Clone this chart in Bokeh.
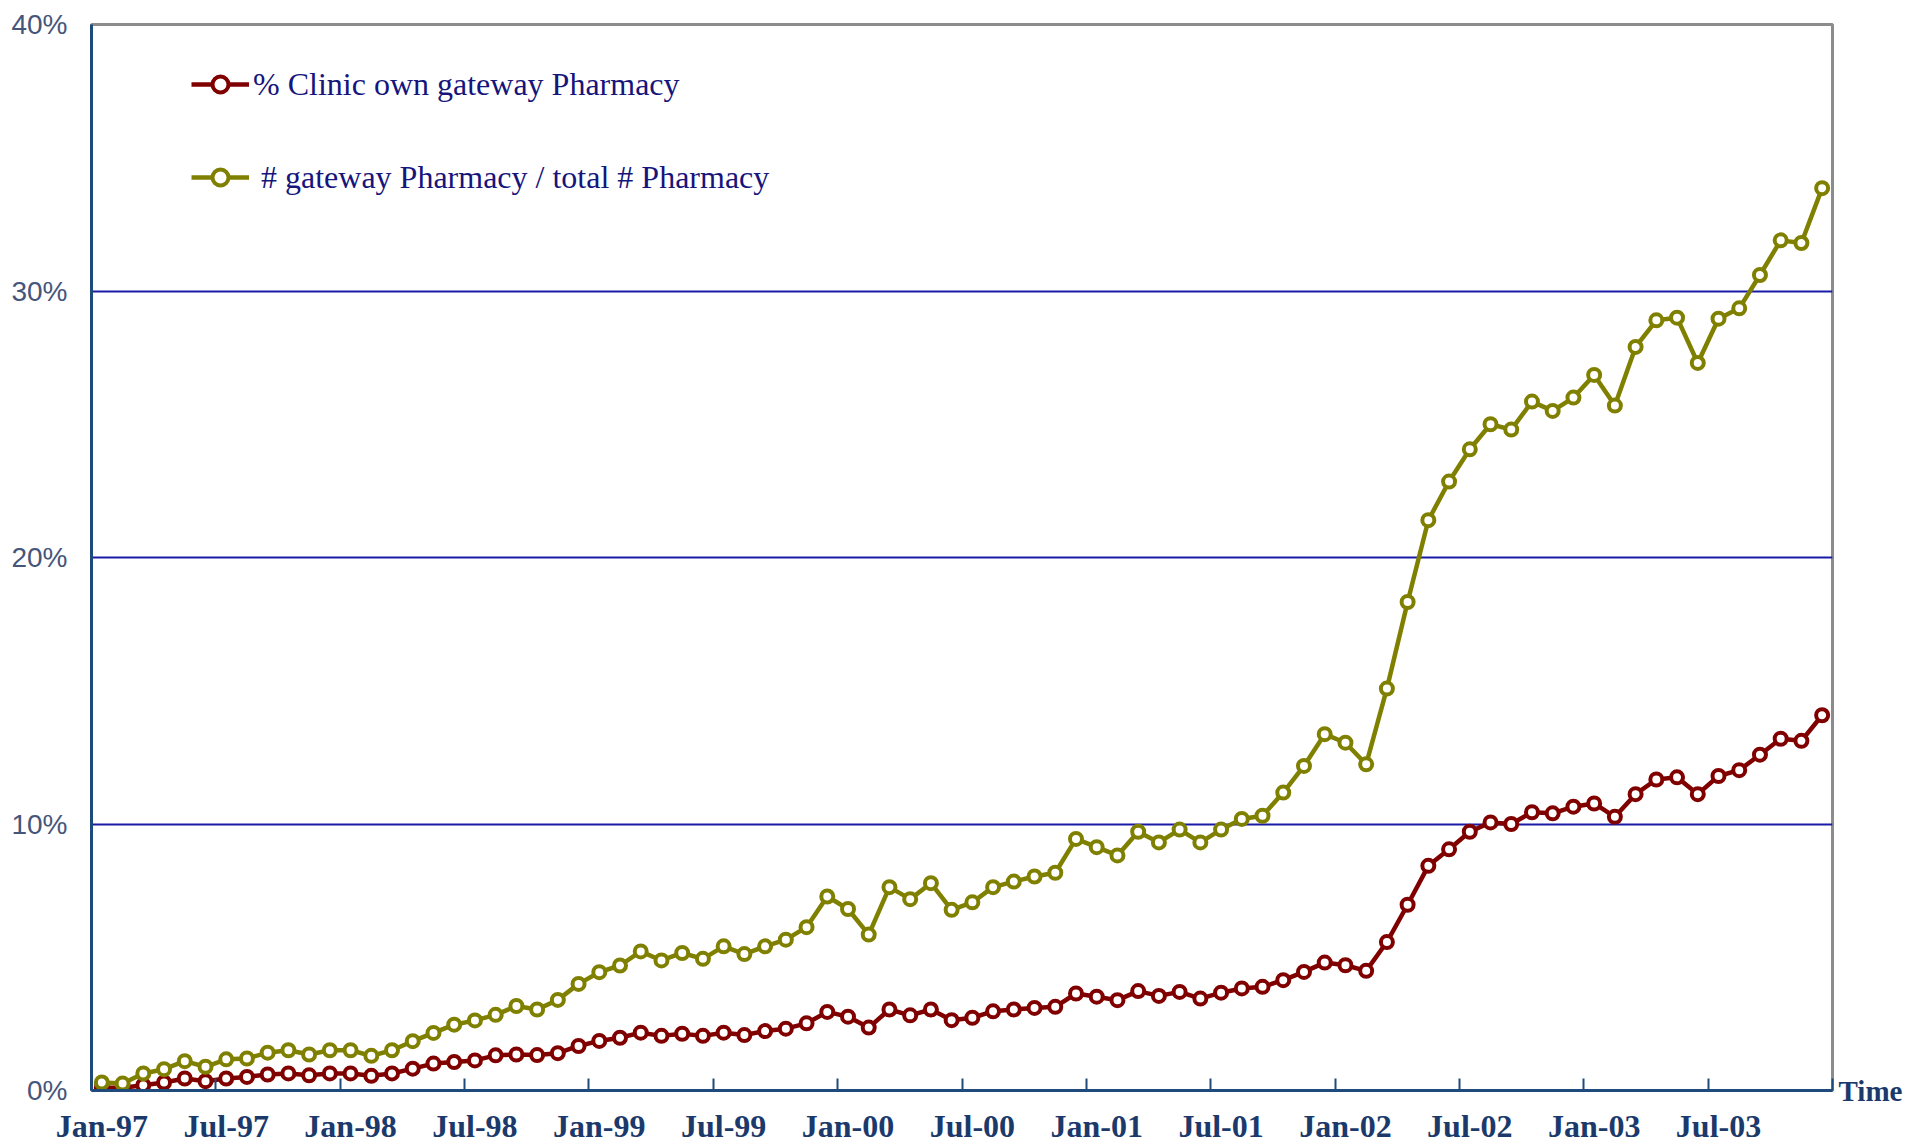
from bokeh.plotting import figure
from bokeh.models import FixedTicker, Legend, LegendItem, LinearAxis, Range1d, ColumnDataSource
from bokeh.embed import file_html
from bokeh.resources import INLINE

# ---- data ----
tick_labels = ["Jan-97", "Jul-97", "Jan-98", "Jul-98", "Jan-99", "Jul-99", "Jan-00",
               "Jul-00", "Jan-01", "Jul-01", "Jan-02", "Jul-02", "Jan-03", "Jul-03"]

clinic_own_gateway = [
    0.10, 0.10, 0.20, 0.30, 0.45, 0.35, 0.45, 0.51, 0.60, 0.64, 0.57, 0.64,
    0.64, 0.55, 0.64, 0.82, 1.01, 1.07, 1.13, 1.32, 1.35, 1.33, 1.40, 1.67,
    1.86, 1.98, 2.17, 2.05, 2.13, 2.05, 2.17, 2.08, 2.23, 2.32, 2.52, 2.95,
    2.77, 2.36, 3.04, 2.82, 3.04, 2.64, 2.73, 2.97, 3.04, 3.10, 3.14, 3.64,
    3.52, 3.39, 3.73, 3.55, 3.70, 3.45, 3.67, 3.83, 3.89, 4.14, 4.45, 4.80,
    4.70, 4.49, 5.57, 6.97, 8.43, 9.05, 9.71, 10.06, 10.00, 10.44, 10.40, 10.65,
    10.77, 10.27, 11.12, 11.67, 11.75, 11.12, 11.80, 12.02, 12.60, 13.20, 13.12, 14.08,
]

gateway_share = [
    0.30, 0.26, 0.64, 0.80, 1.10, 0.89, 1.17, 1.20, 1.42, 1.51, 1.35, 1.51,
    1.51, 1.30, 1.51, 1.85, 2.16, 2.47, 2.63, 2.84, 3.17, 3.04, 3.40, 4.00,
    4.44, 4.69, 5.22, 4.88, 5.16, 4.94, 5.41, 5.12, 5.41, 5.66, 6.13, 7.28,
    6.81, 5.85, 7.63, 7.18, 7.78, 6.78, 7.06, 7.63, 7.84, 8.03, 8.17, 9.44,
    9.13, 8.82, 9.71, 9.31, 9.79, 9.31, 9.79, 10.19, 10.31, 11.18, 12.18, 13.37,
    13.05, 12.24, 15.08, 18.33, 21.40, 22.85, 24.06, 25.00, 24.80, 25.85, 25.50, 26.00,
    26.85, 25.70, 27.90, 28.90, 29.00, 27.30, 28.96, 29.35, 30.60, 31.90, 31.80, 33.86,
]

y_ticks = [0, 10, 20, 30, 40]
months_per_label = 6
x_title = "Time"

# ---- figure ----
n = len(gateway_share)
x = list(range(n))
src = ColumnDataSource(dict(x=x, red=clinic_own_gateway, olive=gateway_share))

p = figure(width=1905, height=1146, output_backend="svg", toolbar_location=None,
           x_range=Range1d(-0.5, n - 0.5), y_range=Range1d(0, 40),
           min_border_left=91, min_border_top=24, min_border_right=73, min_border_bottom=54)
p.background_fill_color = "white"
p.border_fill_color = "white"
p.outline_line_color = "#8c8c8c"
p.outline_line_width = 3

# grid
p.xgrid.visible = False
p.ygrid.ticker = FixedTicker(ticks=[t for t in y_ticks if 0 < t < 40])
p.ygrid.grid_line_color = "#1a1aa8"
p.ygrid.grid_line_width = 2

# x axis
label_pos = [i * months_per_label for i in range(len(tick_labels))]
boundaries = [i * months_per_label - 0.5 for i in range(1, len(tick_labels) + 1)]
xa = p.xaxis[0]
xa.ticker = FixedTicker(ticks=label_pos, minor_ticks=boundaries)
xa.major_label_overrides = {pos: lab for pos, lab in zip(label_pos, tick_labels)}
xa.major_tick_line_color = None
xa.major_tick_out = 0
xa.major_tick_in = 0
xa.minor_tick_line_color = "#1f4a7c"
xa.minor_tick_line_width = 2
xa.minor_tick_in = 12
xa.minor_tick_out = 0
xa.axis_line_color = "#1f4a7c"
xa.axis_line_width = 3
xa.major_label_text_font = "Liberation Serif"
xa.major_label_text_font_style = "bold"
xa.major_label_text_font_size = "32px"
xa.major_label_text_color = "#1b3a6b"
xa.major_label_standoff = 17

# y axis
ya = p.yaxis[0]
ya.ticker = FixedTicker(ticks=y_ticks)
ya.major_label_overrides = {t: f"{t}%" for t in y_ticks}
ya.major_tick_line_color = None
ya.major_tick_out = 0
ya.major_tick_in = 0
ya.minor_tick_line_color = None
ya.axis_line_color = "#1f4a7c"
ya.axis_line_width = 3
ya.major_label_text_font = "Liberation Sans"
ya.major_label_text_font_size = "28px"
ya.major_label_text_color = "#46557a"
ya.major_label_standoff = 24

# "Time" caption at the right end of the x axis (right-side axis with one label at y=0)
ra = LinearAxis(ticker=FixedTicker(ticks=[0]), major_label_overrides={0: x_title})
ra.axis_line_color = None
ra.major_tick_line_color = None
ra.minor_tick_line_color = None
ra.major_tick_out = 0
ra.major_tick_in = 0
ra.major_label_standoff = 6
ra.major_label_text_font = "Liberation Serif"
ra.major_label_text_font_style = "bold"
ra.major_label_text_font_size = "29px"
ra.major_label_text_color = "#1b3a6b"
p.add_layout(ra, "right")

# series
RED = "#800000"
OLIVE = "#808000"
l1 = p.line("x", "red", source=src, line_color=RED, line_width=4.5)
m1 = p.scatter("x", "red", source=src, marker="circle", size=12,
               line_color=RED, line_width=4, fill_color="white")
l2 = p.line("x", "olive", source=src, line_color=OLIVE, line_width=4.5)
m2 = p.scatter("x", "olive", source=src, marker="circle", size=12,
               line_color=OLIVE, line_width=4, fill_color="white")

legend = Legend(items=[
    LegendItem(label="% Clinic own gateway Pharmacy", renderers=[l1, m1]),
    LegendItem(label="\u00a0# gateway Pharmacy / total # Pharmacy", renderers=[l2, m2]),
], location=(100, 893))
legend.label_text_font = "Liberation Serif"
legend.label_text_font_size = "32px"
legend.label_text_color = "#15157c"
legend.label_standoff = 4
legend.glyph_width = 58
legend.glyph_height = 40
legend.label_height = 40
legend.spacing = 53
legend.padding = 0
legend.margin = 0
legend.background_fill_alpha = 0
legend.border_line_alpha = 0
p.add_layout(legend)

open("out.html", "w").write(file_html(p, INLINE))
